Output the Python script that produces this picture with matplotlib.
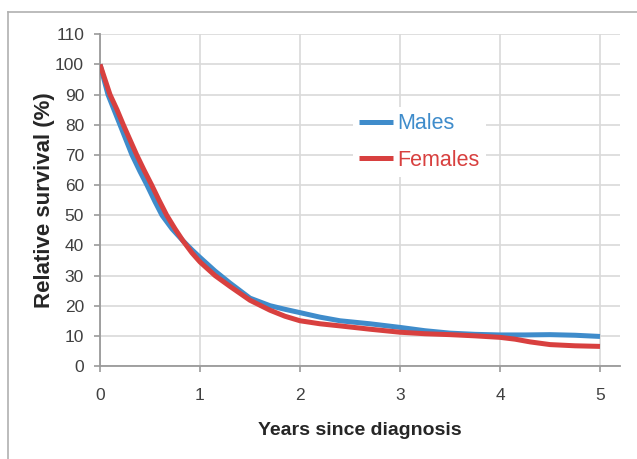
import matplotlib
matplotlib.use("Agg")
import matplotlib.pyplot as plt
from matplotlib import font_manager
from matplotlib.lines import Line2D

# ---- data ----
years_m = [0, 0.04, 0.08, 0.14, 0.2, 0.26, 0.32, 0.4, 0.47, 0.55, 0.62, 0.72, 0.83, 0.92, 1.0, 1.15, 1.3, 1.5, 1.7,
           1.85, 2.0, 2.2, 2.4, 2.7, 3.0, 3.25, 3.5, 3.75, 4.0, 4.25, 4.5, 4.75, 5.0]
males = [100, 95, 90, 85, 80, 75, 70, 64.5, 60, 54.5, 50, 45.5, 41.5, 38.5, 36, 31.5, 27.5, 22.5, 20,
         18.8, 17.7, 16.2, 15, 14, 12.8, 11.7, 10.9, 10.5, 10.3, 10.3, 10.4, 10.2, 9.8]
years_f = [0, 0.05, 0.1, 0.17, 0.233, 0.3, 0.367, 0.44, 0.517, 0.59, 0.667, 0.75, 0.83, 0.92, 1.0, 1.15, 1.3, 1.5,
           1.7, 1.85, 2.0, 2.2, 2.4, 2.7, 3.0, 3.25, 3.5, 3.75, 4.0, 4.15, 4.3, 4.5, 4.75, 5.0]
females = [100, 95, 90, 85, 80, 75, 70, 65, 60, 55, 50, 45.5, 41.5, 37.5, 34.5, 30, 26.4, 21.8,
           18.5, 16.5, 15, 14, 13.3, 12.2, 11.2, 10.7, 10.4, 10, 9.5, 8.9, 8, 7.1, 6.7, 6.5]
x_ticks = [0, 1, 2, 3, 4, 5]
y_ticks = list(range(0, 111, 10))
series_names = ["Males", "Females"]
colors = ["#3f8ccb", "#d8403f"]

def pick(fams):
    for f in fams:
        try:
            font_manager.findfont(f, fallback_to_default=False)
            return f
        except Exception:
            pass
    return "DejaVu Sans"

narrow = pick(["Liberation Sans Narrow", "Liberation Sans", "Arial"])
plt.rcParams['font.family'] = [narrow, 'DejaVu Sans']

fig = plt.figure(figsize=(6.37, 4.59), dpi=100)
W, H = 637, 459
ax = fig.add_axes([100 / W, 1 - 366 / H, 520 / W, (366 - 34.3) / H])

ax.plot(years_m, males, color=colors[0], lw=3.6, solid_capstyle='butt', solid_joinstyle='round',
        label=series_names[0], zorder=3)
ax.plot(years_f, females, color=colors[1], lw=3.6, solid_capstyle='butt', solid_joinstyle='round',
        label=series_names[1], zorder=4)

ax.set_xlim(0, 5.2)
ax.set_ylim(0, 110)
ax.set_xticks(x_ticks)
ax.set_yticks(y_ticks)
ax.grid(True, color="#d9d9d9", lw=1.2, zorder=0)
ax.set_axisbelow(True)
for s in ["top", "right"]:
    ax.spines[s].set_visible(False)
for s in ["left", "bottom"]:
    ax.spines[s].set_color("#9a9a9a")
    ax.spines[s].set_linewidth(1.3)
ax.tick_params(axis='both', colors="#9a9a9a", labelcolor="#404040", labelsize=12.5, length=4.5, width=1.2)
ax.tick_params(axis='x', pad=11)
ax.tick_params(axis='y', pad=7)

ax.set_xlabel("Years since diagnosis", fontsize=14, fontweight='bold', color="#262626",
              family=["Liberation Sans", "DejaVu Sans"], labelpad=14)
ax.set_ylabel("Relative survival (%)", fontsize=16, fontweight='bold', color="#262626",
              family=["Liberation Sans", "DejaVu Sans"], labelpad=0)

leg = ax.legend(loc='center left', bbox_to_anchor=((353 - 100) / 520, (366 - 142) / 331.7),
                frameon=True, fontsize=15.5, handlelength=1.55, handletextpad=0.2,
                labelspacing=0.72, borderpad=0.3, borderaxespad=0, labelcolor='linecolor')
leg.get_frame().set_facecolor("white")
leg.get_frame().set_edgecolor("none")
leg.get_frame().set_alpha(1)
leg.set_zorder(5)

# figure border lines (top and left)
fig.add_artist(Line2D([8 / W, 1], [1 - 12 / H, 1 - 12 / H], color="#b0b0b0", lw=1.2))
fig.add_artist(Line2D([8 / W, 8 / W], [0, 1 - 12 / H], color="#b0b0b0", lw=1.2))

fig.savefig("out.png", dpi=100)
